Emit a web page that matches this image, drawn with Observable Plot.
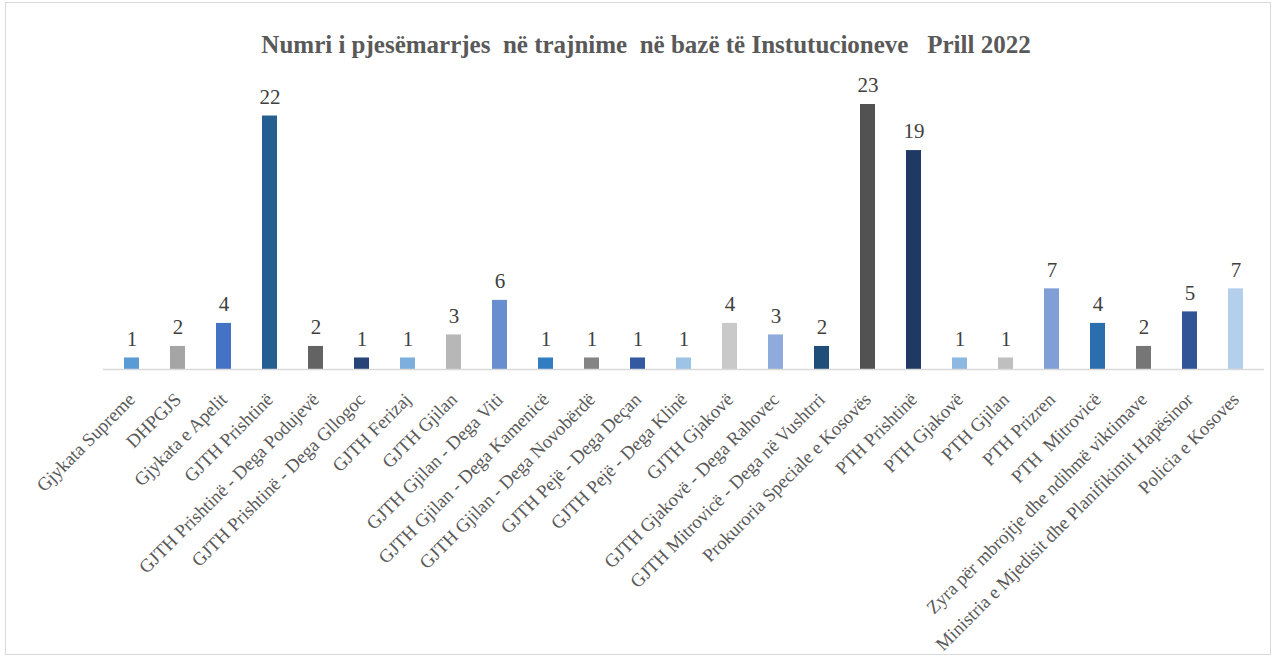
<!DOCTYPE html>
<html>
<head>
<meta charset="utf-8">
<script src="https://cdn.jsdelivr.net/npm/d3@7"></script>
<script src="https://cdn.jsdelivr.net/npm/@observablehq/plot@0.6"></script>
<style>
  html, body { margin: 0; padding: 0; background: #fff; }
  #frame {
    position: absolute; left: 5px; top: 2px; width: 1266px; height: 653px;
    border: 1px solid #d9d9d9; box-sizing: border-box; overflow: hidden;
  }
  #title {
    position: absolute; left: 14px; top: 31px; width: 1264px; text-align: center;
    font-family: "Liberation Serif", "Times New Roman", serif; font-weight: bold;
    font-size: 25px; color: #595959; white-space: pre;
  }
  #chart { position: absolute; left: 0; top: 60px; }
  #chart svg text { white-space: pre; }
</style>
</head>
<body>
<div id="frame"></div>
<div id="title">Numri i pjesëmarrjes  në trajnime  në bazë të Instutucioneve   Prill 2022</div>
<div id="chart"></div>
<script>
const categories = [
  "Gjykata Supreme", "DHPGJS", "Gjykata e Apelit", "GJTH Prishtinë",
  "GJTH Prishtinë - Dega Podujevë", "GJTH Prishtinë - Dega Gllogoc", "GJTH Ferizaj",
  "GJTH Gjilan", "GJTH Gjilan - Dega Viti", "GJTH Gjilan - Dega Kamenicë",
  "GJTH Gjilan - Dega Novobërdë", "GJTH Pejë - Dega Deçan", "GJTH Pejë - Dega Klinë",
  "GJTH Gjakovë", "GJTH Gjakovë - Dega Rahovec", "GJTH Mitrovicë - Dega në Vushtrri",
  "Prokuroria Speciale e Kosovës", "PTH Prishtinë", "PTH Gjakovë", "PTH Gjilan",
  "PTH Prizren", "PTH  Mitrovicë", "Zyra për mbrojtje dhe ndihmë viktimave",
  "Ministria e Mjedisit dhe Planifikimit Hapësinor", "Policia e Kosoves"
];
const values = [1, 2, 4, 22, 2, 1, 1, 3, 6, 1, 1, 1, 1, 4, 3, 2, 23, 19, 1, 1, 7, 4, 2, 5, 7];
const colors = [
  "#5b9bd5", "#a5a5a5", "#4472c4", "#255e91", "#636363", "#264478", "#7cafdd",
  "#b7b7b7", "#698ed0", "#327dc2", "#848484", "#335aa1", "#9dc3e6", "#c9c9c9",
  "#8faadc", "#1f4e79", "#525252", "#203864", "#8cb8e2", "#bfbfbf", "#7f9fd6",
  "#2a6ead", "#767676", "#2f5597", "#b4cfec"
];

const data = categories.map((c, i) => ({category: c, value: values[i]}));

const chart = Plot.plot({
  width: 1278,
  height: 600,
  marginLeft: 103,
  marginRight: 14,
  marginTop: 44,
  marginBottom: 291,
  style: {fontFamily: "'Liberation Serif', 'Times New Roman', serif", fontSize: "18.67px", background: "transparent"},
  x: {domain: categories, paddingInner: 0.68, paddingOuter: 0.34},
  y: {domain: [0, 23], axis: null},
  color: {domain: categories, range: colors},
  marks: [
    Plot.barY(data, {x: "category", y: "value", fill: "category"}),
    Plot.ruleY([0], {stroke: "#d9d9d9", strokeWidth: 1.5}),
    Plot.text(data, {x: "category", y: "value", text: d => String(d.value), dy: -19, fill: "#404040", fontSize: 21}),
    Plot.axisX({tickRotate: -45, tickSize: 0, tickPadding: 27, label: null, fill: "#595959", fontSize: 18.67})
  ]
});
document.getElementById("chart").appendChild(chart);
</script>
</body>
</html>
